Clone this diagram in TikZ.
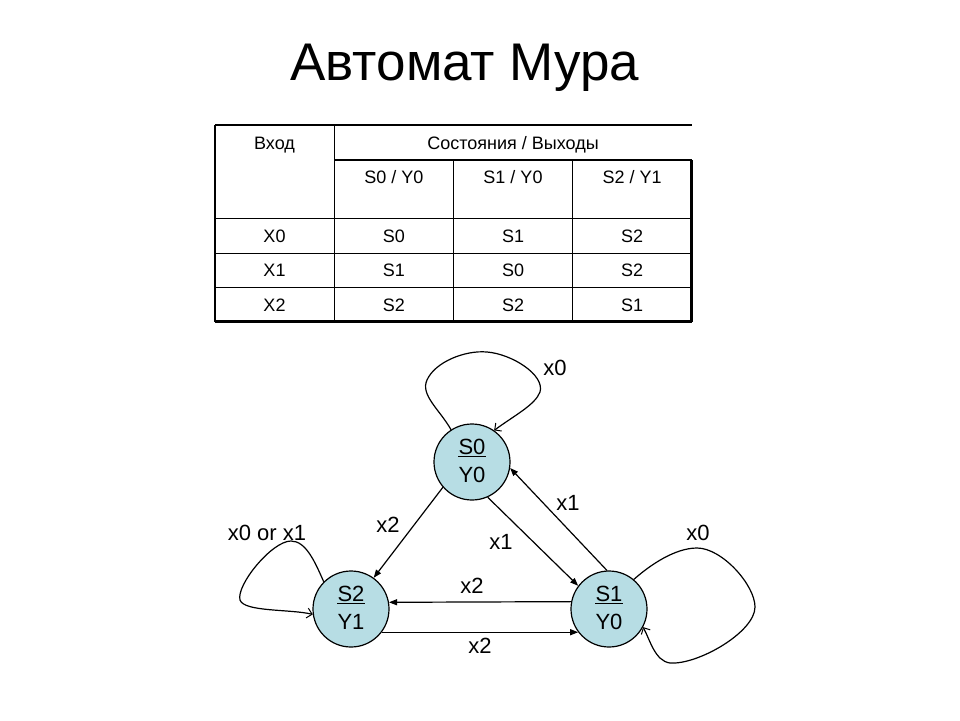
\documentclass[tikz,border=0pt]{standalone}
\usepackage{fontspec}
\setmainfont{Liberation Sans}
\usetikzlibrary{arrows.meta}
\definecolor{nodeblue}{RGB}{183,221,228}
\tikzset{
  state/.style={circle,draw=black,fill=nodeblue,minimum size=76pt,inner sep=0pt,line width=1.2pt},
  stext/.style={inner sep=0pt,anchor=base,font=\fontsize{22}{26}\selectfont},
  elabel/.style={inner sep=0pt,anchor=center,font=\fontsize{22}{26}\selectfont},
  ttext/.style={inner sep=0pt,anchor=base,font=\fontsize{18}{22}\selectfont},
  outer/.style={line width=2.5pt},
  inner/.style={line width=1.5pt},
  edge/.style={line width=1.2pt,-{Triangle[length=8pt,width=6pt]}},
  loopedge/.style={line width=1.2pt,-{Straight Barb[length=5pt,width=10pt,line width=1pt]}},
  uline/.style={line width=1.4pt}
}
\begin{document}
\begin{tikzpicture}[x=1pt,y=-1pt]
\useasboundingbox (0,0) rectangle (960,720);
% title
\node[inner sep=0pt,anchor=base,font=\fontsize{53}{60}\selectfont] (title) at (465,80) {Автомат Мура};
% table
\draw[outer] (215,125) -- (691.7,125);
\draw[outer] (215,125) -- (215,321.7);
\draw[outer] (215,321.7) -- (691.7,321.7);
\draw[outer] (691.7,160) -- (691.7,321.7);
\draw[inner] (334.3,160) -- (691.7,160);
\draw[inner] (215,218.3) -- (691.7,218.3);
\draw[inner] (215,253.3) -- (691.7,253.3);
\draw[inner] (215,287.3) -- (691.7,287.3);
\draw[inner] (334.3,125) -- (334.3,321.7);
\draw[inner] (453.3,160) -- (453.3,321.7);
\draw[inner] (572.7,160) -- (572.7,321.7);
\node[ttext] (h1) at (274.5,149) {Вход};
\node[ttext] (h2) at (513,149) {Состояния / Выходы};
\node[ttext] (h3) at (393.8,183.3) {S0 / Y0};
\node[ttext] (h4) at (513,183.3) {S1 / Y0};
\node[ttext] (h5) at (632.2,183.3) {S2 / Y1};
\node[ttext] (r1a) at (274.5,242.4) {X0};
\node[ttext] (r1b) at (393.8,242.4) {S0};
\node[ttext] (r1c) at (513,242.4) {S1};
\node[ttext] (r1d) at (632.2,242.4) {S2};
\node[ttext] (r2a) at (274.5,276.9) {X1};
\node[ttext] (r2b) at (393.8,276.9) {S1};
\node[ttext] (r2c) at (513,276.9) {S0};
\node[ttext] (r2d) at (632.2,276.9) {S2};
\node[ttext] (r3a) at (274.5,311.1) {X2};
\node[ttext] (r3b) at (393.8,311.1) {S2};
\node[ttext] (r3c) at (513,311.1) {S2};
\node[ttext] (r3d) at (632.2,311.1) {S1};
% states
\node[state] (S0) at (472,462) {};
\node[state] (S1) at (609,609) {};
\node[state] (S2) at (351,609) {};
\node[stext] (S0a) at (472,454) {S0};
\node[stext] (S0b) at (472,482) {Y0};
\node[stext] (S1a) at (609,601) {S1};
\node[stext] (S1b) at (609,629) {Y0};
\node[stext] (S2a) at (351,601) {S2};
\node[stext] (S2b) at (351,629) {Y1};
\draw[uline] ([yshift=-2.5pt]S0a.base west) -- ([yshift=-2.5pt]S0a.base east);
\draw[uline] ([yshift=-2.5pt]S1a.base west) -- ([yshift=-2.5pt]S1a.base east);
\draw[uline] ([yshift=-2.5pt]S2a.base west) -- ([yshift=-2.5pt]S2a.base east);
% straight transitions
\draw[edge] (S0.221) -- (S2.54);
\draw[edge] (S0.294) -- (S1.143);
\draw[edge] (S1.93) -- (S0.351);
\draw[edge] (S1.169.4) -- (S2.10.6);
\draw[edge] (S2.-37.3) -- (S1.217.3);
% loops
\draw[loopedge] (S0.123) .. controls (440,410) and (420,395) .. (427,380)
  .. controls (435,362) and (465,350) .. (487,352)
  .. controls (512,354) and (545,375) .. (540,392)
  .. controls (535,405) and (515,415) .. (S0.55);
\draw[loopedge] (S1.50) .. controls (650,565) and (675,548) .. (697,548)
  .. controls (722,548) and (755,585) .. (755,607)
  .. controls (755,632) and (698,665) .. (670,663)
  .. controls (655,661) and (650,640) .. (S1.332);
\draw[loopedge] (S2.135) .. controls (315,562) and (306,541) .. (291,541)
  .. controls (272,541) and (236,585) .. (240,600)
  .. controls (244,612) and (290,609) .. (S2.188);
% labels
\node[elabel] (l1) at (555,368) {x0};
\node[elabel] (l2) at (568,503) {x1};
\node[elabel] (l3) at (501,542) {x1};
\node[elabel] (l4) at (388,525) {x2};
\node[elabel] (l5) at (267,533) {x0 or x1};
\node[elabel] (l6) at (698,533) {x0};
\node[elabel] (l7) at (472,586) {x2};
\node[elabel] (l8) at (480,646) {x2};
\end{tikzpicture}
\end{document}
